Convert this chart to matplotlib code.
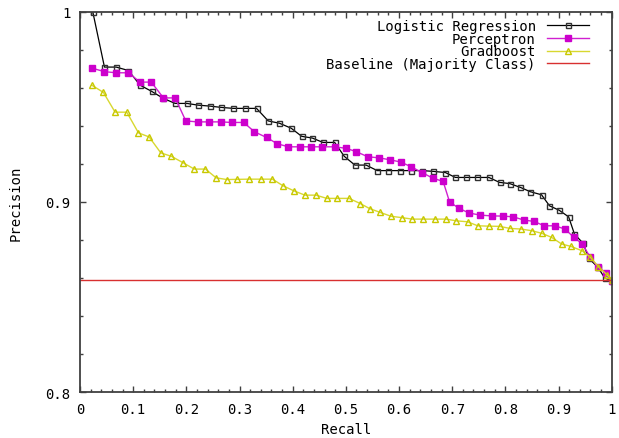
import matplotlib
matplotlib.use("Agg")
import matplotlib.pyplot as plt
from matplotlib.ticker import MultipleLocator

# values
lr_recall = [0.024, 0.046, 0.068, 0.091, 0.113, 0.135, 0.157, 0.179, 0.201, 0.222,
             0.244, 0.266, 0.288, 0.310, 0.332, 0.354, 0.375, 0.397, 0.417, 0.437,
             0.457, 0.479, 0.497, 0.517, 0.538, 0.559, 0.580, 0.601, 0.622, 0.644,
             0.664, 0.687, 0.706, 0.726, 0.747, 0.769, 0.789, 0.808, 0.828, 0.847,
             0.868, 0.883, 0.901, 0.919, 0.930, 0.946, 0.957, 0.974, 0.987, 1.0]
lr_prec = [1.0, 0.9709, 0.9709, 0.9691, 0.9614, 0.9581, 0.9544, 0.9518, 0.9518, 0.9509,
           0.9504, 0.9497, 0.9492, 0.9492, 0.9492, 0.9426, 0.9414, 0.9388, 0.9345, 0.9336,
           0.9313, 0.9313, 0.9240, 0.9194, 0.9194, 0.9165, 0.9165, 0.9165, 0.9165, 0.9165,
           0.9161, 0.9155, 0.9129, 0.9129, 0.9129, 0.9129, 0.9103, 0.9097, 0.9077, 0.9054,
           0.9038, 0.8980, 0.8957, 0.8922, 0.8831, 0.8784, 0.8704, 0.8657, 0.8600, 0.8587]

perc_recall = [0.023, 0.046, 0.068, 0.091, 0.113, 0.134, 0.157, 0.179, 0.199, 0.221,
               0.243, 0.265, 0.285, 0.308, 0.328, 0.351, 0.371, 0.392, 0.413, 0.434,
               0.456, 0.479, 0.501, 0.520, 0.541, 0.562, 0.583, 0.603, 0.623, 0.643,
               0.663, 0.683, 0.695, 0.713, 0.732, 0.753, 0.774, 0.795, 0.815, 0.835,
               0.854, 0.873, 0.893, 0.912, 0.929, 0.945, 0.959, 0.974, 0.989, 1.0]
perc_prec = [0.9703, 0.9685, 0.9679, 0.9679, 0.9630, 0.9630, 0.9547, 0.9547, 0.9426, 0.9421,
             0.9421, 0.9421, 0.9418, 0.9418, 0.9369, 0.9339, 0.9306, 0.9290, 0.9290, 0.9290,
             0.9290, 0.9290, 0.9282, 0.9264, 0.9238, 0.9232, 0.9222, 0.9210, 0.9185, 0.9155,
             0.9126, 0.9108, 0.9001, 0.8966, 0.8942, 0.8931, 0.8927, 0.8926, 0.8922, 0.8905,
             0.8898, 0.8875, 0.8875, 0.8858, 0.8814, 0.8779, 0.8712, 0.8660, 0.8627, 0.8586]

gb_recall = [0.022, 0.044, 0.066, 0.088, 0.110, 0.130, 0.152, 0.172, 0.194, 0.215,
             0.236, 0.256, 0.276, 0.296, 0.318, 0.340, 0.362, 0.382, 0.402, 0.423,
             0.444, 0.464, 0.484, 0.506, 0.527, 0.545, 0.565, 0.585, 0.605, 0.625,
             0.646, 0.668, 0.688, 0.708, 0.729, 0.748, 0.769, 0.789, 0.809, 0.829,
             0.850, 0.869, 0.887, 0.906, 0.923, 0.944, 0.959, 0.975, 0.991, 1.0]
gb_prec = [0.9614, 0.9576, 0.9472, 0.9472, 0.9363, 0.9342, 0.9258, 0.9240, 0.9206, 0.9173,
           0.9173, 0.9127, 0.9118, 0.9119, 0.9120, 0.9120, 0.9120, 0.9085, 0.9059, 0.9036,
           0.9036, 0.9019, 0.9019, 0.9019, 0.8992, 0.8965, 0.8945, 0.8925, 0.8918, 0.8910,
           0.8910, 0.8910, 0.8910, 0.8901, 0.8896, 0.8875, 0.8873, 0.8872, 0.8861, 0.8858,
           0.8849, 0.8835, 0.8814, 0.8779, 0.8767, 0.8744, 0.8712, 0.8660, 0.8618, 0.8590]

baseline = 0.8592

x_ticks = [0, 0.1, 0.2, 0.3, 0.4, 0.5, 0.6, 0.7, 0.8, 0.9, 1]
x_ticklabels = ["0", "0.1", "0.2", "0.3", "0.4", "0.5", "0.6", "0.7", "0.8", "0.9", "1"]
y_ticks = [0.8, 0.9, 1.0]
y_ticklabels = ["0.8", "0.9", "1"]

plt.rcParams['font.family'] = ['DejaVu Sans Mono']

fig = plt.figure(figsize=(6.19, 4.39), dpi=100)
ax = fig.add_axes([80 / 619, 1 - 393.3 / 439, 531.7 / 619, 380.6 / 439])

ax.plot(lr_recall, lr_prec, color='black', lw=0.9, marker='s', ms=3.6,
        mfc='none', mec='#303030', mew=1.0, label='Logistic Regression')
ax.plot(perc_recall, perc_prec, color='#d020d0', lw=1.0, marker='s', ms=4.0,
        mfc='#cc00cc', mec='#cc00cc', label='Perceptron')
ax.plot(gb_recall, gb_prec, color='#d8d830', lw=1.0, marker='^', ms=4.6,
        mfc='none', mec='#c8c800', mew=1.0, label='Gradboost')
ax.axhline(baseline, color='#d83030', lw=1.0, label='Baseline (Majority Class)')

ax.set_xlim(0, 1)
ax.set_ylim(0.8, 1)
ax.set_xticks(x_ticks)
ax.set_xticklabels(x_ticklabels)
ax.set_yticks(y_ticks)
ax.set_yticklabels(y_ticklabels)
ax.xaxis.set_minor_locator(MultipleLocator(0.02))
ax.yaxis.set_minor_locator(MultipleLocator(0.02))
ax.tick_params(which='both', direction='in', top=True, right=True,
               color='#404040', width=1.0)
ax.tick_params(which='major', length=4.5, labelsize=10, pad=7)
ax.tick_params(which='minor', length=2.5)
for s in ax.spines.values():
    s.set_linewidth(1.3)
    s.set_color('#404040')

ax.set_xlabel('Recall', fontsize=10, labelpad=4)
ax.set_ylabel('Precision', fontsize=10, labelpad=16)

ax.legend(loc='upper right', frameon=False, markerfirst=False, fontsize=10,
          handlelength=3.0, handletextpad=0.8, labelspacing=-0.1,
          borderaxespad=0.0, bbox_to_anchor=(0.967, 0.995))

fig.savefig('out.png', dpi=100)
